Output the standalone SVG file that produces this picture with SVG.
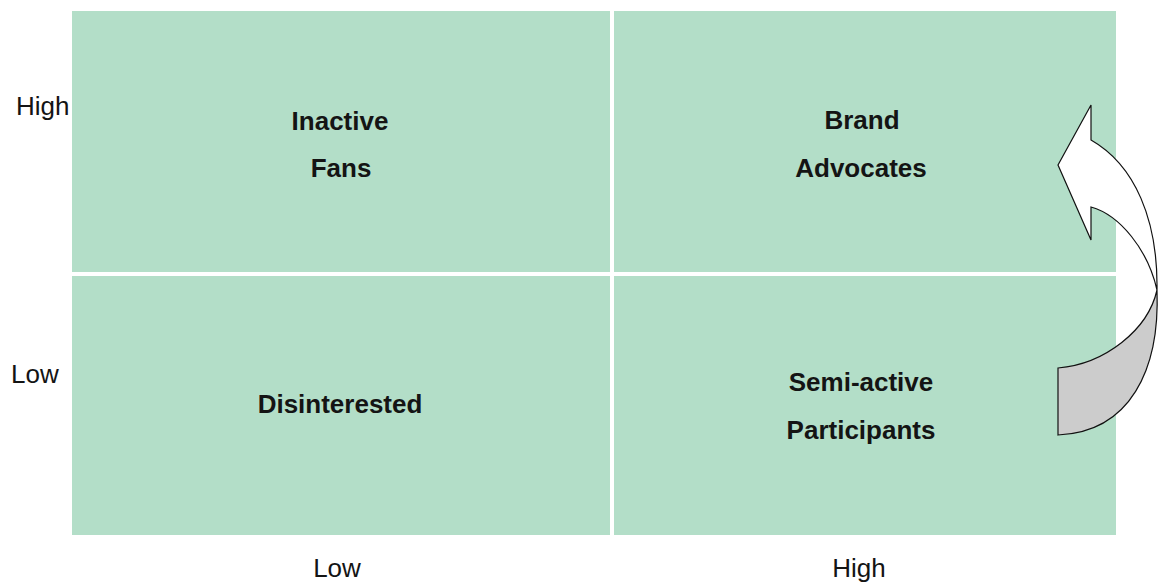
<svg xmlns="http://www.w3.org/2000/svg" width="1163" height="584" viewBox="0 0 1163 584">
  <style>
    .quad { fill: #b3dec8; }
    .label { font-family: "Liberation Sans", Arial, sans-serif; font-size: 26px; font-weight: bold; fill: #141414; text-anchor: middle; }
    .axis { font-family: "Liberation Sans", Arial, sans-serif; font-size: 26px; fill: #141414; }
    .arrow { stroke: #111; stroke-width: 1.2; stroke-linejoin: miter; }
  </style>
  <rect width="1163" height="584" fill="#ffffff"/>

  <!-- quadrants -->
  <g id="inactive-fans">
    <rect class="quad" x="72" y="11" width="538" height="261"/>
    <text class="label" x="340" y="130">Inactive</text>
    <text class="label" x="341" y="177">Fans</text>
  </g>
  <g id="brand-advocates">
    <rect class="quad" x="614" y="11" width="502" height="261"/>
    <text class="label" x="862" y="129">Brand</text>
    <text class="label" x="861" y="177">Advocates</text>
  </g>
  <g id="disinterested">
    <rect class="quad" x="72" y="276" width="538" height="259"/>
    <text class="label" x="340" y="413">Disinterested</text>
  </g>
  <g id="semi-active-participants">
    <rect class="quad" x="614" y="276" width="502" height="259"/>
    <text class="label" x="861" y="391">Semi-active</text>
    <text class="label" x="861" y="439">Participants</text>
  </g>

  <!-- axis labels -->
  <g id="axis-labels">
    <text class="axis" x="16" y="115">High</text>
    <text class="axis" x="11" y="383">Low</text>
    <text class="axis" x="337" y="577" text-anchor="middle">Low</text>
    <text class="axis" x="859" y="577" text-anchor="middle">High</text>
  </g>

  <!-- curved upward arrow -->
  <g id="connectors">
    <path class="arrow" fill="#cccccc" d="M1058,368 C1105,364 1148,330 1157,290 C1160,370 1130,432 1058,435 Z"/>
    <path class="arrow" fill="#ffffff" d="M1091,140 L1091,105 L1058,165 L1091,240 L1091,207 C1120,215 1148,250 1157,290 C1158,220 1135,165 1091,140 Z"/>
  </g>
</svg>
